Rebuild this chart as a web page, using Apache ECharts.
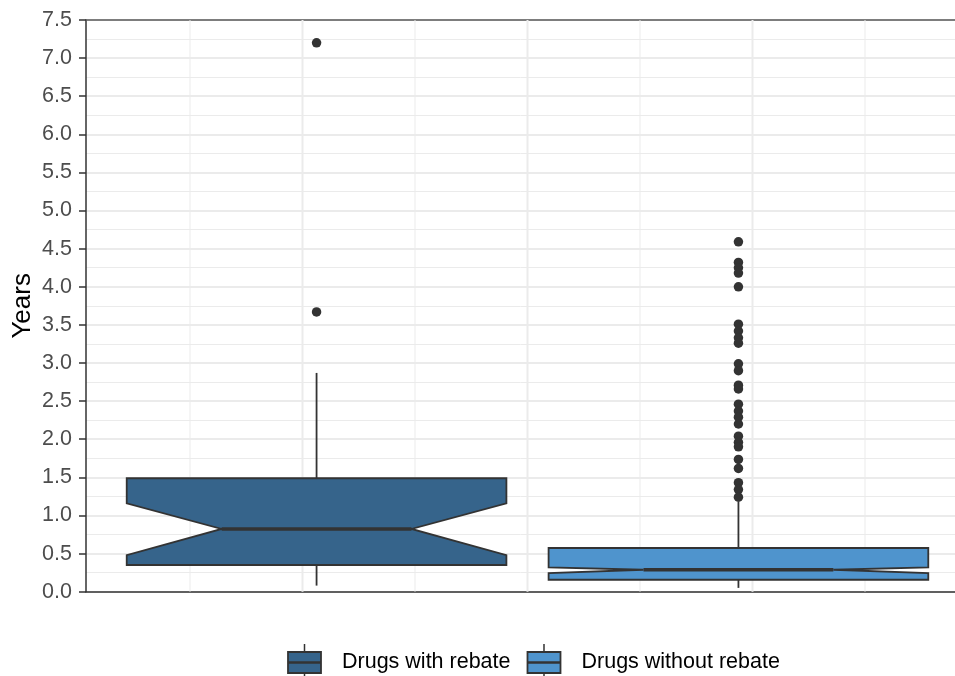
<!DOCTYPE html>
<html>
<head>
<meta charset="utf-8">
<script src="https://cdn.jsdelivr.net/npm/echarts@6/dist/echarts.min.js"></script>
<style>
  html, body { margin: 0; padding: 0; background: #ffffff; }
  #chart { width: 955px; height: 676px; }
</style>
</head>
<body>
<div id="chart"></div>
<script>
// ---------------- data ----------------
const categories = ['Drugs with rebate', 'Drugs without rebate'];
const lowerWhisker = [0.08, 0.05];
const q1 = [0.35, 0.157];
const notchLow = [0.48, 0.245];
const median = [0.823, 0.288];
const notchHigh = [1.16, 0.318];
const q3 = [1.488, 0.573];
const upperWhisker = [2.87, 1.18];
const outliersWithRebate = [3.67, 7.2];
const outliersWithoutRebate = [4.59, 4.32, 4.25, 4.18, 4.00, 3.51, 3.42, 3.33, 3.26,
  2.99, 2.90, 2.71, 2.66, 2.46, 2.37, 2.29, 2.20, 2.04, 1.96, 1.90, 1.735, 1.617,
  1.43, 1.34, 1.24];
const yTickValues = [0, 0.5, 1, 1.5, 2, 2.5, 3, 3.5, 4, 4.5, 5, 5.5, 6, 6.5, 7, 7.5];
const xGridTicks = [-0.3, -0.2, -0.1, 0, 0.1, 0.2, 0.3];

// ---------------- layout / style ----------------
const colors = ['#36648B', '#4F94CD'];
const dodgeWidth = 0.75;
const boxWidth = dodgeWidth / categories.length * 0.9;
const notchWidth = 0.5;
const fontFamily = "'Liberation Sans', Arial, sans-serif";
const groupX = categories.map((c, i) => -dodgeWidth / 2 + dodgeWidth / categories.length * (i + 0.5));
const outliers = [outliersWithRebate, outliersWithoutRebate];

const boxData = categories.map((c, i) => [groupX[i], lowerWhisker[i], q1[i], notchLow[i], median[i], notchHigh[i], q3[i], upperWhisker[i], i]);

const chart = echarts.init(document.getElementById('chart'), null, { renderer: 'canvas' });

function renderBox(params, api) {
  const xc = api.value(0);
  const lw = api.value(1), b1 = api.value(2), nl = api.value(3), md = api.value(4),
        nh = api.value(5), b3 = api.value(6), uw = api.value(7), idx = api.value(8);
  const hw = boxWidth / 2;
  const inset = boxWidth * (1 - notchWidth) / 2;
  const c = (x, y) => api.coord([x, y]);
  const poly = [
    c(xc - hw, b3), c(xc - hw, nh), c(xc - hw + inset, md), c(xc - hw, nl), c(xc - hw, b1),
    c(xc + hw, b1), c(xc + hw, nl), c(xc + hw - inset, md), c(xc + hw, nh), c(xc + hw, b3)
  ];
  const top = c(xc, b3), upper = c(xc, uw), bot = c(xc, b1), lower = c(xc, lw);
  const mL = c(xc - hw + inset, md), mR = c(xc + hw - inset, md);
  const stroke = '#333333';
  return {
    type: 'group',
    children: [
      { type: 'line', shape: { x1: top[0], y1: top[1], x2: upper[0], y2: upper[1] }, style: { stroke, lineWidth: 1.8 } },
      { type: 'line', shape: { x1: bot[0], y1: bot[1], x2: lower[0], y2: lower[1] }, style: { stroke, lineWidth: 1.8 } },
      { type: 'polygon', shape: { points: poly }, style: { fill: colors[idx], stroke, lineWidth: 1.8, lineJoin: 'miter' } },
      { type: 'line', shape: { x1: mL[0], y1: mL[1], x2: mR[0], y2: mR[1] }, style: { stroke, lineWidth: 3.6 } }
    ]
  };
}

function renderVGrid(params, api) {
  const v = api.value(0);
  const a = api.coord([v, 0]);
  const b = api.coord([v, 7.5]);
  const major = Math.abs(Math.round(v * 10)) % 2 === 0;
  return {
    type: 'line',
    shape: { x1: a[0], y1: a[1], x2: b[0], y2: b[1] },
    style: { stroke: '#ebebeb', lineWidth: major ? 2 : 1 }
  };
}

const scatterData = [];
outliers.forEach((arr, i) => arr.forEach(v => scatterData.push([groupX[i], v])));

const gridLeft = 86, gridTop = 20, gridHeight = 571.7, gridWidth = 869;
const pxPerUnit = 1125;
const xMin = -(527.5 - gridLeft) / pxPerUnit;
const xMax = xMin + gridWidth / pxPerUnit;

const option = {
  backgroundColor: '#ffffff',
  animation: false,
  textStyle: { fontFamily },
  grid: {
    left: gridLeft, top: gridTop, width: gridWidth, height: gridHeight,
    show: false, containLabel: false, outerBoundsMode: 'none'
  },
  xAxis: [
    {
      type: 'value', min: xMin, max: xMax, position: 'bottom',
      axisLine: { show: true, onZero: false, lineStyle: { color: '#333333', width: 1.5 } },
      axisTick: { show: false }, axisLabel: { show: false },
      splitLine: { show: false }
    },
    {
      type: 'value', min: xMin, max: xMax, position: 'top',
      axisLine: { show: true, onZero: false, lineStyle: { color: '#5a5a5a', width: 1.5 } },
      axisTick: { show: false }, axisLabel: { show: false },
      splitLine: { show: false }
    }
  ],
  yAxis: {
    type: 'value', min: 0, max: 7.5, interval: 0.5,
    name: 'Years', nameLocation: 'middle', nameGap: 50, nameMoveOverlap: false,
    nameTextStyle: { fontSize: 26, color: '#000000', fontFamily },
    axisLine: { show: true, onZero: false, lineStyle: { color: '#333333', width: 1.5 } },
    axisTick: { show: true, inside: false, length: 7, lineStyle: { color: '#333333', width: 1.5 } },
    axisLabel: {
      fontSize: 21.5, color: '#4d4d4d', margin: 14, fontFamily,
      formatter: v => (yTickValues.indexOf(v) >= 0 ? v.toFixed(1) : '')
    },
    splitLine: { show: true, lineStyle: { color: '#ebebeb', width: 2 } },
    minorTick: { show: false, splitNumber: 2 },
    minorSplitLine: { show: true, lineStyle: { color: '#ebebeb', width: 1 } }
  },
  series: [
    {
      type: 'custom', name: 'xgrid', z: 1, silent: true,
      renderItem: renderVGrid,
      encode: { x: 0 },
      data: xGridTicks.map(v => [v])
    },
    {
      type: 'custom', name: 'boxes', z: 3,
      renderItem: renderBox,
      encode: { x: 0, y: [1, 2, 3, 4, 5, 6, 7] },
      data: boxData
    },
    {
      type: 'scatter', name: 'outliers', z: 4,
      symbol: 'circle', symbolSize: 9.5,
      itemStyle: { color: '#333333', opacity: 1 },
      data: scatterData
    }
  ],
  graphic: []
};

// ---------------- legend (drawn like ggplot keys) ----------------
(function buildLegend() {
  const ctx = document.createElement('canvas').getContext('2d');
  const fs = 21.5;
  ctx.font = fs + 'px ' + fontFamily;
  const keyW = 33, keyH = 21, keyTextGap = 21, itemGap = 17;
  const cy = 662.5;
  let x = 288;
  const els = [];
  categories.forEach((name, i) => {
    const cx = x + keyW / 2;
    els.push({ type: 'line', shape: { x1: cx, y1: cy - 18.5, x2: cx, y2: cy + 18.5 }, style: { stroke: '#333333', lineWidth: 1.5 } });
    els.push({ type: 'rect', shape: { x: x, y: cy - keyH / 2, width: keyW, height: keyH }, style: { fill: colors[i], stroke: '#333333', lineWidth: 1.8 } });
    els.push({ type: 'line', shape: { x1: x, y1: cy, x2: x + keyW, y2: cy }, style: { stroke: '#333333', lineWidth: 2.4 } });
    const tx = x + keyW + keyTextGap;
    els.push({ type: 'text', x: tx, y: cy, style: { text: name, fontSize: fs, fontFamily, fill: '#000000', verticalAlign: 'middle', align: 'left' } });
    x = tx + ctx.measureText(name).width + itemGap;
  });
  option.graphic = els;
})();

chart.setOption(option);
</script>
</body>
</html>
